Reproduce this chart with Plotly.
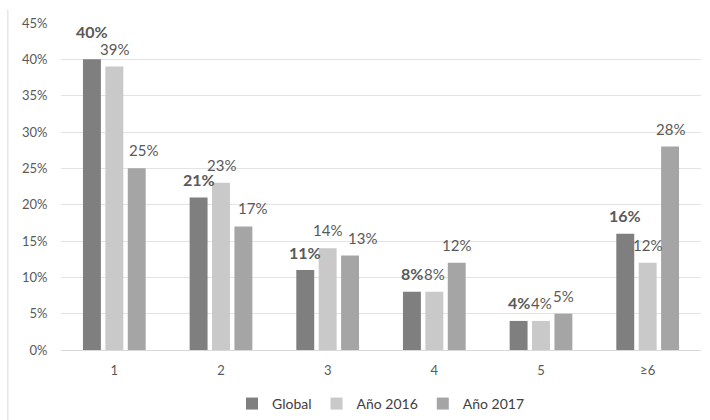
import plotly.graph_objects as go

categories = ["1", "2", "3", "4", "5", "≥6"]
global_vals = [40, 21, 11, 8, 4, 16]
y2016_vals = [39, 23, 14, 8, 4, 12]
y2017_vals = [25, 17, 13, 12, 5, 28]

series = [
    ("Global", global_vals, "#7f7f7f", True),
    ("Año 2016", y2016_vals, "#c9c9c9", False),
    ("Año 2017", y2017_vals, "#a5a5a5", False),
]

FONT = "Lato, 'Open Sans', sans-serif"
TXT = "#595959"

W, H = 710, 420
ML, MR, MT, MB = 61, 9, 23, 70
BARGAP = 0.37
cat_px = (W - ML - MR) / len(categories)
slot_px = (1 - BARGAP) * cat_px / len(series)

# label placement tweaks (px), as in the reference
LIFT = 18
EXTRA_Y = {(0, 0): 10}
EXTRA_X = {(2, 0): 7, (2, 1): 9, (2, 2): 12}

fig = go.Figure()
annotations = []
for si, (name, vals, color, bold) in enumerate(series):
    fig.add_trace(go.Bar(
        name=name, x=categories, y=vals,
        marker=dict(color=color, line=dict(width=0)),
    ))
    for ci, v in enumerate(vals):
        annotations.append(dict(
            x=ci, y=v, xref="x", yref="y",
            text=f"<b>{v}%</b>" if bold else f"{v}%",
            showarrow=False, xanchor="center", yanchor="middle",
            xshift=(si - 1) * slot_px + EXTRA_X.get((si, ci), 0),
            yshift=LIFT + EXTRA_Y.get((si, ci), 0),
            font=dict(size=16 if bold else 15, color=TXT, family=FONT),
        ))

fig.update_layout(
    width=W, height=H,
    margin=dict(l=ML, r=MR, t=MT, b=MB, autoexpand=False),
    plot_bgcolor="white", paper_bgcolor="white",
    barmode="group", bargap=BARGAP, bargroupgap=0.2,
    font=dict(family=FONT, size=13, color=TXT),
    legend=dict(orientation="h", x=0.5, xanchor="center", y=-0.165, yanchor="middle",
                font=dict(size=14, color="#404040"), traceorder="normal"),
    xaxis=dict(type="category", showline=True, linecolor="#d9d9d9", linewidth=1,
               ticks="outside", ticklen=8, tickcolor="rgba(0,0,0,0)",
               tickfont=dict(size=13, color=TXT)),
    yaxis=dict(range=[0, 45], dtick=5, ticksuffix="%", showgrid=True,
               gridcolor="#e3e3e3", zeroline=False, showline=False,
               ticks="outside", ticklen=10, tickcolor="rgba(0,0,0,0)",
               tickfont=dict(size=13, color=TXT)),
    annotations=annotations,
    shapes=[dict(type="line", xref="paper", yref="paper",
                 x0=-0.083, x1=-0.083, y0=1.04, y1=-0.22,
                 line=dict(color="#d9d9d9", width=1))],
)

fig.write_html("out.html")
